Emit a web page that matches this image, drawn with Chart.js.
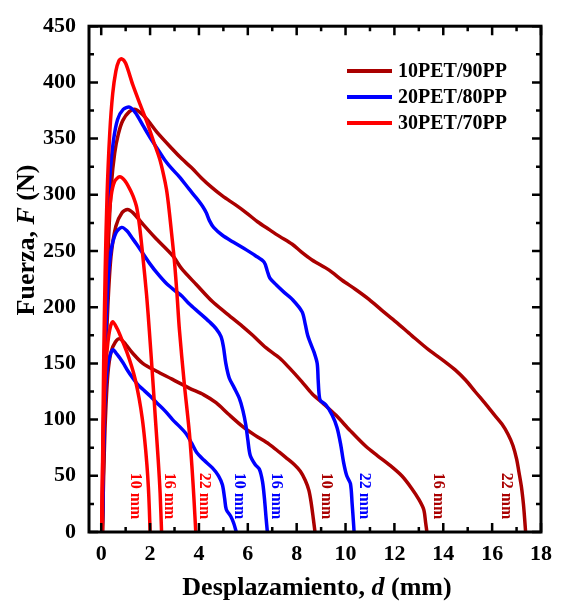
<!DOCTYPE html>
<head>
    <meta charset="utf-8">
    <style>
        body { margin: 0; background: #fff; }
    </style>
</head>

<body>
    <div style="width:561px;height:604px">
        <canvas id="forceChart" width="561" height="604"></canvas>
    </div>
</body>

<script src="https://cdn.jsdelivr.net/npm/chart.js"></script>

<script>

// curves, [d (mm), F (N)]
var pet10_10mm = [[0.05,0],[0.1,50],[0.17,100],[0.27,140],[0.4,160],[0.58,169],[0.76,172],[1.0,167],[1.29,159],[1.7,150],[2.27,143],[2.9,136],[3.6,128],[4.2,122],[4.7,115],[5.2,105],[5.78,94],[6.3,86],[6.88,78],[7.29,71],[7.57,66],[7.9,60],[8.15,54],[8.35,46],[8.5,37],[8.6,25],[8.68,12],[8.75,0]]
var pet10_16mm = [[0.05,0],[0.1,70],[0.17,140],[0.27,200],[0.4,245],[0.6,272],[0.85,284],[1.08,287],[1.3,284],[1.7,274],[2.2,262],[2.92,246],[3.3,234],[3.9,220],[4.55,205],[5.1,195],[5.78,183],[6.2,175],[6.74,164],[7.29,155],[7.7,146],[8.2,134],[8.63,123],[9.1,114],[9.6,104],[10.2,90],[10.84,76],[11.3,68],[11.78,60],[12.3,50],[12.7,39],[13.0,29],[13.2,20],[13.28,8],[13.33,0]]
var pet10_22mm = [[0.05,0],[0.12,100],[0.2,190],[0.3,260],[0.42,310],[0.55,337],[0.7,354],[0.88,366],[1.15,374],[1.4,376],[1.8,369],[2.27,356],[2.9,341],[3.3,332],[3.7,324],[4.1,315],[4.5,307],[4.96,299],[5.5,291],[5.94,284],[6.4,276],[6.88,269],[7.3,263],[7.82,256],[8.2,249],[8.63,242],[9.33,233],[9.86,224],[10.4,216],[10.96,207],[11.5,197],[12.06,187],[12.7,175],[13.41,162],[14.1,151],[14.5,144],[14.92,135],[15.3,125],[15.73,114],[16.1,104],[16.4,96],[16.65,87],[16.85,77],[17.0,65],[17.1,53],[17.2,40],[17.28,25],[17.33,12],[17.37,0]]

var pet20_10mm = [[0.03,0],[0.07,50],[0.12,100],[0.2,135],[0.3,152],[0.47,162],[0.65,158],[0.88,151],[1.1,143],[1.29,137],[1.5,131],[1.7,127],[2.0,121],[2.27,115],[2.6,108],[2.92,100],[3.2,94],[3.49,87],[3.7,79],[3.9,71],[4.2,64],[4.55,57],[4.8,50],[4.96,42],[5.05,30],[5.12,20],[5.3,14],[5.42,8],[5.53,0]]
var pet20_16mm = [[0.04,0],[0.1,80],[0.17,160],[0.27,220],[0.4,250],[0.6,266],[0.84,271],[1.05,268],[1.25,262],[1.45,256],[1.7,248],[1.98,239],[2.3,230],[2.67,221],[3.0,215],[3.3,210],[3.6,203],[4.02,195],[4.43,187],[4.7,181],[4.9,174],[5.0,165],[5.1,150],[5.24,137],[5.45,128],[5.65,119],[5.8,108],[5.92,95],[6.0,82],[6.1,68],[6.3,60],[6.47,56],[6.6,45],[6.68,30],[6.75,12],[6.8,0]]
var pet20_22mm = [[0.04,0],[0.1,100],[0.17,200],[0.25,270],[0.35,315],[0.5,348],[0.67,367],[0.9,376],[1.16,378],[1.4,373],[1.7,362],[2.0,351],[2.27,342],[2.6,331],[2.9,323],[3.2,316],[3.6,305],[3.9,297],[4.14,290],[4.3,284],[4.43,277],[4.6,271],[4.96,264],[5.4,258],[5.94,251],[6.3,246],[6.67,240],[6.8,232],[6.9,226],[7.16,220],[7.5,213],[7.82,207],[8.22,196],[8.35,185],[8.45,175],[8.6,166],[8.71,160],[8.84,150],[8.88,135],[8.92,122],[8.97,117],[9.2,113],[9.45,104],[9.65,93],[9.8,78],[9.92,62],[10.05,50],[10.2,43],[10.27,25],[10.32,10],[10.35,0]]

var pet30_10mm = [[0.02,0],[0.06,60],[0.1,100],[0.18,145],[0.27,168],[0.37,182],[0.47,187],[0.65,181],[0.85,171],[1.05,160],[1.25,147],[1.4,135],[1.55,119],[1.68,101],[1.78,82],[1.87,60],[1.93,40],[1.97,20],[2.0,0]]
var pet30_16mm = [[0.03,0],[0.07,60],[0.12,140],[0.18,210],[0.27,265],[0.4,298],[0.55,312],[0.76,316],[0.95,313],[1.15,306],[1.3,299],[1.45,289],[1.57,272],[1.7,246],[1.86,210],[1.97,179],[2.1,139],[2.22,100],[2.33,65],[2.41,35],[2.47,0]]
var pet30_22mm = [[0.02,0],[0.06,70],[0.1,150],[0.16,230],[0.24,300],[0.35,355],[0.47,390],[0.6,410],[0.72,419],[0.84,421],[1.0,417],[1.29,398],[1.6,380],[1.9,363],[2.15,347],[2.39,332],[2.55,318],[2.67,305],[2.75,292],[2.85,272],[3.0,240],[3.1,212],[3.2,180],[3.4,132],[3.61,88],[3.72,56],[3.8,28],[3.87,0]]

var seriesNames = ['10PET/90PP', '20PET/80PP', '30PET/70PP']
var seriesColors = ['#AA0000', '#0000FF', '#FF0000']

var xTicks = [0, 2, 4, 6, 8, 10, 12, 14, 16, 18]
var yTicks = [0, 50, 100, 150, 200, 250, 300, 350, 400, 450]

// rotated thickness labels: text, series, d position
var gapLabels = ['10 mm', '16 mm', '22 mm', '10 mm', '16 mm', '10 mm', '22 mm', '16 mm', '22 mm']
var gapSeries = [2, 2, 2, 1, 1, 0, 1, 0, 0]
var gapX = [1.37, 2.8, 4.22, 5.65, 7.16, 9.2, 10.76, 13.78, 16.59]
var gapY = 32

var serif = "'Liberation Serif', 'Times New Roman', serif"

function toPoints(arr) {
    return arr.map(function(p) { return {x: p[0], y: p[1]} })
}

function makeSet(arr, s) {
    return {
        label: seriesNames[s],
        data: toPoints(arr),
        borderColor: seriesColors[s],
        backgroundColor: seriesColors[s],
        borderWidth: 3.5,
        pointRadius: 0,
        tension: 0.3,
        fill: false,
        order: 2 - s
    }
}

var datasets = [
    makeSet(pet10_10mm, 0), makeSet(pet10_16mm, 0), makeSet(pet10_22mm, 0),
    makeSet(pet20_10mm, 1), makeSet(pet20_16mm, 1), makeSet(pet20_22mm, 1),
    makeSet(pet30_10mm, 2), makeSet(pet30_16mm, 2), makeSet(pet30_22mm, 2)
]

// frame, inward ticks, legend, labels and axis titles
var decorPlugin = {
    id: 'decor',
    afterDraw: function(chart) {
        var ctx = chart.ctx
        var a = chart.chartArea
        var xs = chart.scales.x
        var ys = chart.scales.y
        ctx.save()
        ctx.strokeStyle = '#000'
        ctx.lineWidth = 3
        ctx.strokeRect(a.left, a.top, a.right - a.left, a.bottom - a.top)

        ctx.lineWidth = 2.5
        for (var v = 0; v <= 18; v++) {
            var px = xs.getPixelForValue(v)
            var len = v % 2 == 0 ? 9 : 5
            ctx.beginPath()
            ctx.moveTo(px, a.bottom); ctx.lineTo(px, a.bottom - len)
            ctx.moveTo(px, a.top); ctx.lineTo(px, a.top + len)
            ctx.stroke()
        }
        for (var w = 0; w <= 450; w += 25) {
            var py = ys.getPixelForValue(w)
            var len2 = w % 50 == 0 ? 9 : 5
            ctx.beginPath()
            ctx.moveTo(a.left, py); ctx.lineTo(a.left + len2, py)
            ctx.moveTo(a.right, py); ctx.lineTo(a.right - len2, py)
            ctx.stroke()
        }

        // legend
        ctx.font = 'bold 20px ' + serif
        ctx.textBaseline = 'middle'
        ctx.textAlign = 'left'
        for (var i = 0; i < seriesNames.length; i++) {
            var ly = 71 + i * 26
            ctx.strokeStyle = seriesColors[i]
            ctx.lineWidth = 4
            ctx.beginPath()
            ctx.moveTo(347, ly); ctx.lineTo(392, ly)
            ctx.stroke()
            ctx.fillStyle = '#000'
            ctx.fillText(seriesNames[i], 398, ly + 1)
        }

        // rotated gap labels
        ctx.font = 'bold 16px ' + serif
        ctx.textAlign = 'center'
        for (var k = 0; k < gapLabels.length; k++) {
            ctx.save()
            ctx.translate(xs.getPixelForValue(gapX[k]), ys.getPixelForValue(gapY))
            ctx.rotate(Math.PI / 2)
            ctx.fillStyle = seriesColors[gapSeries[k]]
            ctx.fillText(gapLabels[k], 0, 0)
            ctx.restore()
        }

        // axis titles with italic symbols
        ctx.fillStyle = '#000'
        drawTitle(ctx, [['Desplazamiento, ', false], ['d', true], [' (mm)', false]], (a.left + a.right) / 2 + 2, 588, 0)
        drawTitle(ctx, [['Fuerza, ', false], ['F', true], [' (N)', false]], 27, 240, -Math.PI / 2)
        ctx.restore()
    }
}

function drawTitle(ctx, parts, cx, cy, angle) {
    var fonts = parts.map(function(p) { return (p[1] ? 'italic ' : '') + 'bold 26px ' + serif })
    var total = 0
    var widths = parts.map(function(p, i) {
        ctx.font = fonts[i]
        var w = ctx.measureText(p[0]).width
        total += w
        return w
    })
    ctx.save()
    ctx.translate(cx, cy)
    ctx.rotate(angle)
    ctx.textAlign = 'left'
    ctx.textBaseline = 'middle'
    var x = -total / 2
    parts.forEach(function(p, i) {
        ctx.font = fonts[i]
        ctx.fillText(p[0], x, 0)
        x += widths[i]
    })
    ctx.restore()
}

var ctx = document.getElementById('forceChart').getContext('2d')

var forceChart = new Chart(ctx, {
    type: 'line',
    data: { datasets: datasets },
    plugins: [decorPlugin],
    options: {
        responsive: false,
        animation: false,
        layout: { padding: { left: 0, right: 17, top: 22, bottom: 0 } },
        plugins: {
            legend: { display: false },
            tooltip: { enabled: false }
        },
        scales: {
            x: {
                type: 'linear',
                min: -0.5,
                max: 18,
                grid: { display: false, drawTicks: false },
                border: { display: false },
                afterBuildTicks: function(s) { s.ticks = xTicks.map(function(v) { return {value: v} }) },
                afterFit: function(s) { s.height = 72 },
                ticks: {
                    color: '#000',
                    padding: 9,
                    maxRotation: 0,
                    autoSkip: false,
                    font: { family: serif, size: 22, weight: 'bold' }
                }
            },
            y: {
                type: 'linear',
                min: 0,
                max: 450,
                grid: { display: false, drawTicks: false },
                border: { display: false },
                afterBuildTicks: function(s) { s.ticks = yTicks.map(function(v) { return {value: v} }) },
                afterFit: function(s) { s.width = 89 },
                ticks: {
                    color: '#000',
                    padding: 13,
                    autoSkip: false,
                    font: { family: serif, size: 22, weight: 'bold' }
                }
            }
        }
    }
});

</script>
</html>
